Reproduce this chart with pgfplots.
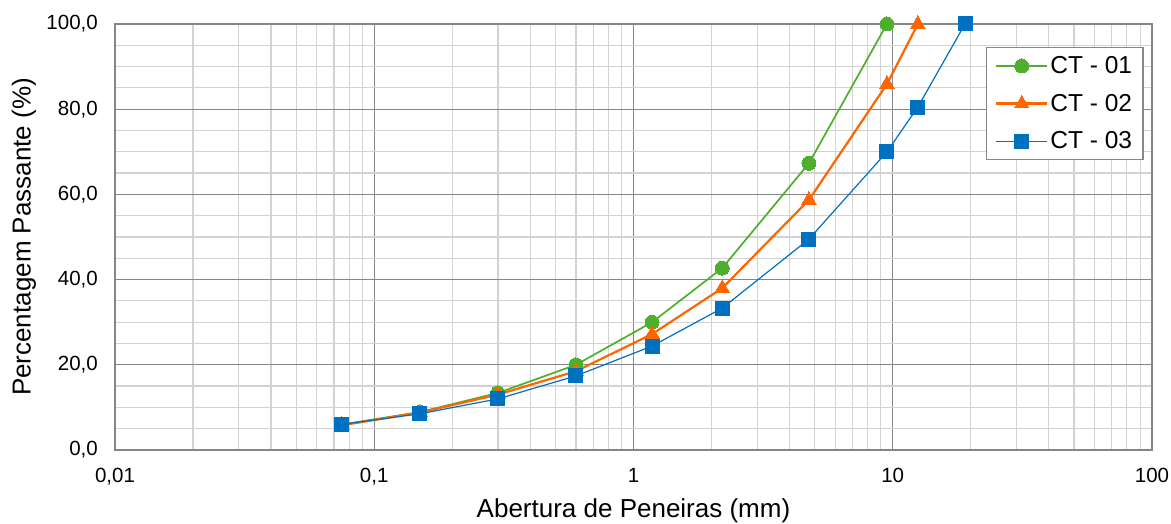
\documentclass[border=0pt]{standalone}
\usepackage{fontspec}
\setmainfont{Liberation Sans}
\usepackage{pgfplots}
\pgfplotsset{compat=1.18}
\definecolor{cgreen}{RGB}{77,175,45}
\definecolor{corange}{RGB}{255,102,0}
\definecolor{cblue}{RGB}{0,112,192}
\definecolor{majgrid}{RGB}{134,134,134}
\definecolor{mingrid}{RGB}{210,210,210}
\begin{document}
\begin{tikzpicture}
\useasboundingbox (-115pt,-74pt) rectangle (1056pt,450pt);
\begin{axis}[
  at={(0pt,0pt)}, anchor=south west,
  scale only axis, width=1037pt, height=426pt,
  xmode=log, log basis x=10,
  xmin=0.01, xmax=100, ymin=0, ymax=100,
  xtick={0.01,0.1,1,10,100},
  xticklabels={{0,01},{0,1},1,10,100},
  minor xtick={0.02,0.03,0.04,0.05,0.06,0.07,0.08,0.09,0.2,0.3,0.4,0.5,0.6,0.7,0.8,0.9,2,3,4,5,6,7,8,9,20,30,40,50,60,70,80,90},
  ytick={0,20,...,100},
  minor y tick num=3,
  /pgf/number format/assume math mode=true,
  yticklabel={\pgfmathprintnumber[fixed,fixed zerofill,precision=1,use comma]{\tick}},
  grid=both,
  major grid style={draw=majgrid, line width=1.3pt},
  minor grid style={draw=mingrid, line width=1.2pt},
  axis line style={draw=majgrid, line width=1.3pt},
  major tick length=0pt, minor tick length=0pt,
  tick label style={font=\fontsize{20.5}{20.5}\selectfont},
  yticklabel style={anchor=east, inner xsep=0pt, xshift=-17pt},
  xticklabel style={anchor=base, yshift=-33pt},
  label style={font=\fontsize{26}{26}\selectfont},
  xlabel={Abertura de Peneiras (mm)},
  ylabel={Percentagem Passante (\%)},
  xlabel style={at={(axis description cs:0.5,-0.1596)}, anchor=base},
  ylabel style={at={(axis description cs:-0.0878,0.5)}, anchor=center, rotate=0},
  legend style={at={(rel axis cs:0.992,0.946)}, anchor=north east,
    draw=majgrid, line width=1.3pt, font=\fontsize{24.5}{24.5}\selectfont,
    inner xsep=9pt, inner ysep=7pt, row sep=15pt},
  legend cell align=left,
  legend image code/.code={\draw[mark repeat=2,mark phase=2] plot coordinates {(0pt,0pt) (25.5pt,0pt) (51pt,0pt)};},
]
\addplot[cgreen, line width=1.7pt, mark=*, mark size=7pt, mark options={solid, fill=cgreen, draw=cgreen, line width=0pt}]
  coordinates {(0.075,6.0) (0.15,8.9) (0.3,13.4) (0.6,20.0) (1.18,30.0) (2.2,42.7) (4.75,67.3) (9.5,100)};
\addlegendentry{CT - 01}
\addplot[corange, line width=2.2pt, mark=triangle*, mark size=8.3pt, mark options={solid, fill=corange, draw=corange, line width=0pt}]
  coordinates {(0.075,5.8) (0.15,8.8) (0.3,13.0) (0.6,18.5) (1.18,27.2) (2.2,38.0) (4.75,58.7) (9.5,85.9) (12.5,100)};
\addlegendentry{CT - 02}
\addplot[cblue, line width=1.2pt, mark=square*, mark size=7pt, mark options={solid, fill=cblue, draw=cblue, line width=0pt}]
  coordinates {(0.075,6.0) (0.15,8.5) (0.3,12.0) (0.6,17.4) (1.18,24.4) (2.2,33.3) (4.75,49.5) (9.5,70.0) (12.5,80.5) (19,100)};
\addlegendentry{CT - 03}
\end{axis}
\end{tikzpicture}
\end{document}
